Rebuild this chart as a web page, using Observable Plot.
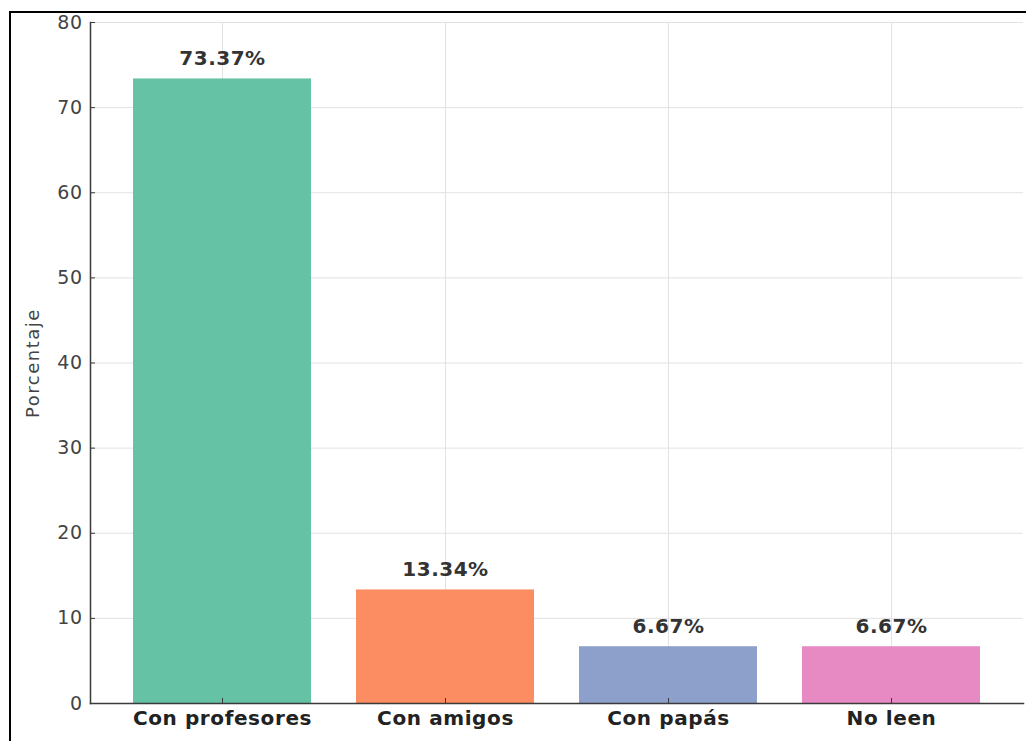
<!DOCTYPE html>
<html>
<head>
<meta charset="utf-8">
<script src="https://cdn.jsdelivr.net/npm/d3@7"></script>
<script src="https://cdn.jsdelivr.net/npm/@observablehq/plot@0.6"></script>
<style>
  html, body { margin: 0; padding: 0; background: #fff; overflow: hidden; }
  #wrap { position: relative; width: 1026px; height: 741px; }
  #border { position: absolute; left: 9px; top: 11px; width: 1100px; height: 800px;
            border-left: 2px solid #000; border-top: 2px solid #000; pointer-events: none; }
  #chart { position: absolute; left: 0; top: 0; }
  #chart g[aria-label="text"] text { letter-spacing: 0.5px; }
  #chart g[aria-label="x-axis tick label"] text { letter-spacing: 0.6px; }
  #chart g[aria-label="y-axis tick label"] text { letter-spacing: 0.5px; }
  #chart g[aria-label="y-axis label"] text { letter-spacing: 1.5px; }
</style>
</head>
<body>
<div id="wrap">
  <div id="chart"></div>
  <div id="border"></div>
</div>
<script>
// Con quién leen los estudiantes (porcentaje)
const categories = ["Con profesores", "Con amigos", "Con papás", "No leen"];
const values = [73.37, 13.34, 6.67, 6.67];
const colors = ["#66c2a5", "#fc8d62", "#8da0cb", "#e78ac3"];
const yTicks = [0, 10, 20, 30, 40, 50, 60, 70, 80];

const data = categories.map((c, i) => ({category: c, value: values[i]}));

const chart = Plot.plot({
  width: 1026,
  height: 741,
  marginLeft: 90,
  marginRight: 3,
  marginTop: 22,
  marginBottom: 38,
  style: {fontFamily: "DejaVu Sans", background: "#fff"},
  x: {domain: categories, paddingInner: 0.2, paddingOuter: 0.19, label: null},
  y: {domain: [0, 80], ticks: yTicks, label: "Porcentaje"},
  color: {domain: categories, range: colors},
  marks: [
    Plot.gridX({stroke: "#e2e2e2", strokeOpacity: 1, strokeWidth: 1}),
    Plot.gridY(yTicks, {stroke: "#e2e2e2", strokeOpacity: 1, strokeWidth: 1}),
    Plot.barY(data, {x: "category", y: "value", fill: "category"}),
    Plot.text(data, {
      x: "category", y: "value",
      text: d => d.value.toFixed(2) + "%",
      lineAnchor: "bottom", dy: -14,
      fontSize: 20, fontWeight: "bold", fill: "#333"
    }),
    Plot.frame({anchor: "left", stroke: "#3a3a3a", strokeWidth: 1.5}),
    Plot.frame({anchor: "bottom", stroke: "#3a3a3a", strokeWidth: 1.5}),
    Plot.axisY(yTicks, {
      tickSize: 0, tickPadding: 8, fontSize: 19, fill: "#444",
      label: "Porcentaje", labelAnchor: "center", labelArrow: "none", labelOffset: 64
    }),
    Plot.axisY(yTicks, {tickSize: -5, text: null, label: null, stroke: "#3a3a3a"}),
    Plot.axisX({
      tickSize: 0, tickPadding: 7, fontSize: 20, fontWeight: "bold", fill: "#222", label: null
    }),
    Plot.axisX({tickSize: -5, text: null, label: null, stroke: "#3a3a3a"})
  ]
});

// axis title size
chart.querySelectorAll('g[aria-label="y-axis label"] text').forEach(t => t.setAttribute("font-size", 18));

document.getElementById("chart").appendChild(chart);
</script>
</body>
</html>
